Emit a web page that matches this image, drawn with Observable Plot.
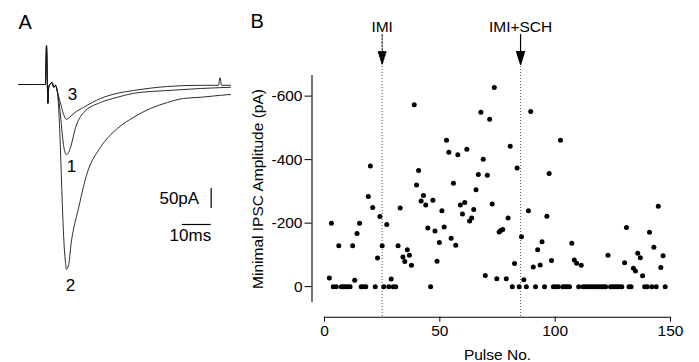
<!DOCTYPE html>
<html><head><meta charset="utf-8">
<script src="https://cdn.jsdelivr.net/npm/d3@7"></script>
<script src="https://cdn.jsdelivr.net/npm/@observablehq/plot@0.6"></script>
<style>
html,body{margin:0;padding:0;background:#fff;}
#wrap{position:relative;width:699px;height:362px;overflow:hidden;background:#fff;}
#wrap svg{position:absolute;top:0;}
</style></head><body><div id="wrap"></div>
<script>
// ---------- Panel B data ----------
const pulses = [2.1,3.0,3.8,5.1,6.2,7.3,8.1,9.1,10.1,11.1,12.2,13.1,14.1,15.2,15.9,16.8,17.9,19.0,19.9,20.9,
  22.0,23.0,24.0,25.0,25.7,27.0,27.9,28.9,29.8,30.9,31.9,32.8,34.0,34.8,35.9,36.8,37.7,38.9,39.9,40.8,
  41.9,42.9,43.9,44.8,46.0,47.0,47.9,48.8,49.8,50.9,51.9,52.9,53.9,54.9,55.9,56.9,57.8,58.9,59.8,60.8,
  61.7,62.9,63.8,64.7,65.7,66.7,67.8,68.8,69.7,70.6,71.6,72.7,73.6,74.7,75.7,76.4,77.3,78.8,79.6,80.5,
  81.4,82.4,83.5,84.4,85.4,86.4,87.5,88.4,89.4,90.5,91.5,92.4,93.5,94.3,95.4,96.4,97.4,98.4,99.2,100.2,
  101.3,102.3,103.3,104.3,105.2,106.2,107.2,108.3,109.3,110.2,111.3,112.1,113.1,114.1,115.1,116.0,117.0,118.0,119.0,120.0,
  121.0,121.9,122.9,124.0,125.0,126.0,126.9,127.9,128.9,130.1,130.9,132.0,132.9,133.9,134.8,135.8,136.9,137.9,138.8,139.9,
  140.9,141.9,142.8,143.8,144.7,145.8,146.8,147.7];
const amplitudes = [-27,-200,0,0,-129,0,0,0,0,0,-129,-20,-167,-200,0,0,0,-284,-380,-249,
  0,-90,-221,-129,0,-196,0,-24,0,0,-129,-248,-93,-79,-116,-99,-67,-573,-320,-366,
  -270,-287,-257,-185,0,-272,-175,-80,-139,-239,-188,-461,-423,-152,-326,-130,-415,-257,-229,-265,
  -433,-207,-216,-243,-305,-353,-549,-401,-35,-351,-527,-260,-627,-25,-172,-177,-180,-25,-216,-442,
  0,-73,-374,0,-157,-22,0,-239,-552,-62,0,-116,-68,-141,0,-222,-356,-82,0,0,
  0,-461,0,0,0,0,-137,-84,-74,0,-67,0,0,0,0,0,0,0,0,0,
  0,0,-99,0,0,0,0,0,0,-75,-186,0,0,-58,-49,-105,-91,-34,0,0,
  -171,0,-124,0,-253,-60,-97,0];
const xTicks = [0, 50, 100, 150];
const yTicks = [0, -200, -400, -600];
const eventLabels = ["IMI", "IMI+SCH"];
const eventPulses = [25, 85];

// ---------- Panel A data (ms, pA) ----------
const preTime    = [0, 9.6, 10.0, 10.5, 10.8, 11.4, 12.0, 12.6, 13.2, 13.8];
const preCurrent = [0, 0, 97, -47, -7, 2, 5, -7, -2, -15];
const trace1Time    = [14.4,15.0,15.6,16.2,17.1,17.9,18.6,20.4,23.3,29.3,35.3,41.1,53.2,65.0,75.7];
const trace1Current = [-40,-77,-122,-157,-175,-170,-157,-107,-70,-45,-32,-22,-15,-10,-7];
const trace2Time    = [14.4,15.0,15.6,16.2,16.8,17.1,18.0,18.8,19.8,21.0,24.5,29.3,35.3,41.1,47.1,53.2,58.9,65.0,72.1,75.7];
const trace2Current = [-65,-165,-290,-390,-447,-462,-447,-397,-357,-322,-222,-157,-110,-82,-60,-45,-35,-32,-27,-25];
const trace3Time    = [14.4,15.2,16.0,17.1,18.2,19.8,23.3,29.3,35.3,41.1,53.2,65.0,71.4,72.0,72.5,75.7];
const trace3Current = [-32,-52,-72,-87,-82,-72,-57,-35,-22,-15,-5,-2,-2,17,-2,-2];
const traceNames = ["1", "2", "3"];
const scaleBarTime = [58.5, 68.8];     // 10 ms
const scaleBarCurrent = [-260, -310];  // 50 pA
const scaleBarLabels = ["50pA", "10ms"];

const font = "'Liberation Sans', Arial, Helvetica, sans-serif";
const wrap = document.getElementById("wrap");

// ---------- Panel A ----------
const traceSets = [[trace1Time, trace1Current], [trace2Time, trace2Current], [trace3Time, trace3Current]];
const traceRows = traceSets.flatMap(([T, I], k) =>
  preTime.map((t, j) => ({trace: traceNames[k], t, i: preCurrent[j]}))
    .concat(T.map((t, j) => ({trace: traceNames[k], t, i: I[j]}))));
const traceMins = traceSets.map(([T, I], k) => {
  const j = d3.minIndex(I);
  return {trace: traceNames[k], t: T[j], i: I[j]};
});
const labelOffsets = {"1": [5, 12], "2": [4, 16], "3": [6, -25]};

const plotA = Plot.plot({
  width: 245, height: 362, margin: 0,
  x: {domain: [0, 80], range: [18, 242], axis: null},
  y: {domain: [100, -500], range: [44, 284], axis: null},
  style: {fontFamily: font, background: "transparent", overflow: "visible", color: "black"},
  marks: [
    Plot.line(traceRows, {x: "t", y: "i", z: "trace", stroke: "#151515", strokeWidth: 0.9, curve: "monotone-x"}),
    ...traceMins.map(d => Plot.text([d], {x: "t", y: "i", text: "trace", fontSize: 17,
      dx: labelOffsets[d.trace][0], dy: labelOffsets[d.trace][1], lineAnchor: "middle"})),
    Plot.ruleX([scaleBarTime[1]], {y1: scaleBarCurrent[0], y2: scaleBarCurrent[1], strokeWidth: 1.2}),
    Plot.ruleY([scaleBarCurrent[1] - 40], {x1: scaleBarTime[0], x2: scaleBarTime[1], strokeWidth: 1.2}),
    Plot.text([scaleBarLabels[0]], {x: scaleBarTime[1], y: (scaleBarCurrent[0] + scaleBarCurrent[1]) / 2,
      textAnchor: "end", dx: -12, fontSize: 17, lineAnchor: "middle"}),
    Plot.text([scaleBarLabels[1]], {x: scaleBarTime[1], y: scaleBarCurrent[1] - 40,
      textAnchor: "end", dx: 0, dy: 4, fontSize: 17, lineAnchor: "top"}),
    Plot.text(["A"], {frameAnchor: "top-left", dx: 18, dy: 28, lineAnchor: "bottom", textAnchor: "start", fontSize: 20})
  ]
});
plotA.style.left = "0px";
wrap.appendChild(plotA);

// ---------- Panel B ----------
const scatter = pulses.map((p, k) => ({pulse: p, amp: amplitudes[k]}));
const events = eventLabels.map((label, k) => ({label, pulse: eventPulses[k]}));
const arrowShape = {
  draw(ctx, l) {
    const h = 13, w = 4;
    ctx.moveTo(0, 0); ctx.lineTo(0, -l + h);
    ctx.moveTo(-w, -l + h); ctx.lineTo(0, -l); ctx.lineTo(w, -l + h); ctx.closePath();
  }
};
const yDomain = [50, -665];
const fs = 15.5;
const plotB = Plot.plot({
  width: 454, height: 362, marginLeft: 79, marginRight: 29, marginTop: 75, marginBottom: 60,
  x: {domain: [0, 150], axis: null},
  y: {domain: yDomain, axis: null},
  style: {fontFamily: font, fontSize: fs + "px", background: "transparent", overflow: "visible", color: "black"},
  marks: [
    Plot.ruleX(eventPulses, {stroke: "#555", strokeDasharray: "1,2", insetTop: -9, insetBottom: -15}),
    Plot.ruleX([xTicks[0]], {dx: -12.5, strokeWidth: 1.1}),
    Plot.ruleY([yDomain[0]], {dy: 14.7, strokeWidth: 1.1}),
    Plot.axisY(yTicks, {anchor: "left", tickSize: 7, dx: -12.5, tickPadding: 2.5, fontSize: fs,
      tickFormat: d => String(d), label: null}),
    Plot.axisX(xTicks, {anchor: "bottom", tickSize: 5, dy: 14.7, tickPadding: 3, fontSize: fs, label: null}),
    Plot.dot(scatter, {x: "pulse", y: "amp", r: 2.5, fill: "black"}),
    Plot.vector(events.slice(0, 1), {x: "pulse", frameAnchor: "top", dy: -11, length: 30, rotate: 180, anchor: "end",
      shape: arrowShape, fill: "black", stroke: "black", strokeWidth: 1, strokeDasharray: "2,1.5"}),
    Plot.vector(events.slice(1), {x: "pulse", frameAnchor: "top", dy: -11, length: 30, rotate: 180, anchor: "end",
      shape: arrowShape, fill: "black", stroke: "black", strokeWidth: 1.2}),
    Plot.text(events, {x: "pulse", text: "label", frameAnchor: "top", dy: -44, lineAnchor: "bottom", fontSize: fs}),
    Plot.text(["Pulse No."], {frameAnchor: "bottom", dy: 57, lineAnchor: "bottom", fontSize: fs}),
    Plot.text(["Minimal IPSC Amplitude (pA)"], {frameAnchor: "left", dx: -66, rotate: -90, textAnchor: "middle",
      lineAnchor: "middle", fontSize: fs}),
    Plot.text(["B"], {frameAnchor: "top-left", dx: -74, dy: -48, lineAnchor: "bottom", textAnchor: "start", fontSize: 20})
  ]
});
plotB.style.left = "245px";
wrap.appendChild(plotB);
</script></body></html>
